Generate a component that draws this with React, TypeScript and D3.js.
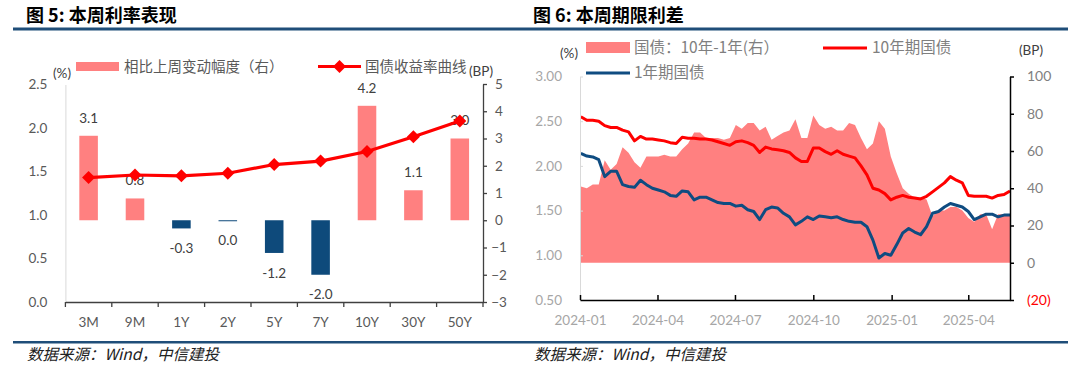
import * as d3 from "d3";
import { useEffect, useRef } from "react";

const W = 1080;
const H = 366;

// 图5：本周利率表现
const TENORS = ["3M", "9M", "1Y", "2Y", "5Y", "7Y", "10Y", "30Y", "50Y"];
const WEEK_CHANGE_BP = [3.1, 0.8, -0.3, 0.0, -1.2, -2.0, 4.2, 1.1, 3.0];
const CURVE_YIELD = [1.43, 1.46, 1.45, 1.48, 1.58, 1.62, 1.73, 1.9, 2.08];
const PCT_TICKS = [0, 0.5, 1, 1.5, 2, 2.5];
const BP_TICKS = [-3, -2, -1, 0, 1, 2, 3, 4, 5];

// 图6：本周期限利差 (weekly readings)
const DATES = [
  "2024-01-02", "2024-01-09", "2024-01-16", "2024-01-23", "2024-01-30", "2024-02-06", "2024-02-13", "2024-02-20",
  "2024-02-27", "2024-03-05", "2024-03-12", "2024-03-19", "2024-03-26", "2024-04-02", "2024-04-09", "2024-04-16",
  "2024-04-23", "2024-04-30", "2024-05-07", "2024-05-14", "2024-05-21", "2024-05-28", "2024-06-04", "2024-06-11",
  "2024-06-18", "2024-06-25", "2024-07-02", "2024-07-09", "2024-07-16", "2024-07-23", "2024-07-30", "2024-08-06",
  "2024-08-13", "2024-08-20", "2024-08-27", "2024-09-03", "2024-09-10", "2024-09-17", "2024-09-24", "2024-10-01",
  "2024-10-08", "2024-10-15", "2024-10-22", "2024-10-29", "2024-11-05", "2024-11-12", "2024-11-19", "2024-11-26",
  "2024-12-03", "2024-12-10", "2024-12-17", "2024-12-24", "2024-12-31", "2025-01-07", "2025-01-14", "2025-01-21",
  "2025-01-28", "2025-02-04", "2025-02-11", "2025-02-18", "2025-02-25", "2025-03-04", "2025-03-11", "2025-03-18",
  "2025-03-25", "2025-04-01", "2025-04-08", "2025-04-15", "2025-04-22", "2025-04-29", "2025-05-06", "2025-05-13",
  "2025-05-20",
];
const CGB_10Y = [
  2.55, 2.51, 2.51, 2.5, 2.45, 2.43, 2.43, 2.4, 2.38, 2.28,
  2.33, 2.3, 2.3, 2.29, 2.28, 2.26, 2.25, 2.32, 2.31, 2.31,
  2.3, 2.3, 2.29, 2.27, 2.25, 2.23, 2.27, 2.28, 2.26, 2.23,
  2.15, 2.21, 2.19, 2.18, 2.17, 2.15, 2.09, 2.05, 2.05, 2.2,
  2.2, 2.16, 2.13, 2.17, 2.13, 2.11, 2.09, 2.0, 1.9, 1.75,
  1.73, 1.69, 1.62, 1.65, 1.67, 1.65, 1.64, 1.63, 1.66, 1.71,
  1.76, 1.81, 1.88, 1.84, 1.81, 1.67, 1.66, 1.66, 1.66, 1.64,
  1.67, 1.68, 1.72,
];
const CGB_1Y = [
  2.14, 2.11, 2.1, 2.07, 1.88, 1.94, 1.94, 1.79, 1.77, 1.76,
  1.84, 1.79, 1.75, 1.73, 1.71, 1.67, 1.66, 1.72, 1.71, 1.62,
  1.65, 1.65, 1.62, 1.59, 1.58, 1.58, 1.55, 1.56, 1.51, 1.49,
  1.4, 1.51, 1.54, 1.53, 1.47, 1.43, 1.34, 1.38, 1.43, 1.4,
  1.44, 1.43, 1.42, 1.43, 1.4, 1.38, 1.37, 1.37, 1.32, 1.17,
  0.97, 1.02, 1.0, 1.12, 1.25, 1.3, 1.26, 1.23, 1.32, 1.47,
  1.49, 1.54, 1.58, 1.56, 1.54, 1.49, 1.4, 1.43, 1.46, 1.46,
  1.43, 1.45, 1.45,
];
const SPREAD_BP = [
  41, 40, 42, 42, 55, 50, 53, 62, 59, 54,
  51, 57, 57, 57, 58, 57, 57, 61, 64, 70,
  70, 67, 67, 67, 66, 67, 74, 72, 75, 75,
  71, 73, 66, 68, 70, 71, 77, 67, 67, 79,
  74, 72, 73, 71, 71, 75, 74, 67, 61, 64,
  76, 72, 57, 48, 40, 37, 35, 35, 34, 25,
  28, 28, 30, 30, 28, 24, 22, 26, 26, 18,
  26, 26, 26,
];
const RATE_TICKS = [0.5, 1, 1.5, 2, 2.5, 3];
const SPREAD_TICKS = [-20, 0, 20, 40, 60, 80, 100];
const DATE_TICKS = ["2024-01-01", "2024-04-01", "2024-07-01", "2024-10-01", "2025-01-01", "2025-04-01"];

const NUM_FONT = "Lato, 'Noto Sans CJK SC', sans-serif";
const CJK_FONT = "'Noto Sans CJK SC', sans-serif";
const PINK = "#ff8080";
const NAVY = "#0e4a7b";
const RULE = "#1f4e79";

const App = () => {
  const svgRef = useRef<SVGSVGElement>(null);

  useEffect(() => {
    const svg = d3.select(svgRef.current);
    svg.selectAll("*").remove();
    svg.style("background", "#fff");

    // header / footer rules and texts
    svg.append("rect").attr("x", 13).attr("y", 27.5).attr("width", 1055).attr("height", 3).attr("fill", RULE);
    svg.append("rect").attr("x", 13).attr("y", 341).attr("width", 1055).attr("height", 2.5).attr("fill", RULE);
    [
      { x: 26, t: "图 5: 本周利率表现" },
      { x: 533, t: "图 6: 本周期限利差" },
    ].forEach((d) =>
      svg.append("text").attr("x", d.x).attr("y", 22).attr("font-family", CJK_FONT)
        .attr("font-weight", 700).attr("font-size", 18).attr("fill", "#000").text(d.t)
    );
    [27, 534].forEach((x) =>
      svg.append("text").attr("x", x).attr("y", 360).attr("font-family", CJK_FONT)
        .attr("font-style", "italic").attr("font-size", 15.5).attr("fill", "#222")
        .text("数据来源：Wind，中信建投")
    );

    // ---------- 图5 ----------
    const g5 = svg.append("g");
    const x5 = d3.scaleBand().domain(TENORS).range([65.4, 483]);
    const yPct = d3.scaleLinear().domain([0, 2.5]).range([302, 84.5]);
    const yBp = d3.scaleLinear().domain([-3, 5]).range([302, 84]);

    const leftAx = g5.append("g").attr("transform", "translate(65.4,0)")
      .call(d3.axisLeft(yPct).tickValues(PCT_TICKS).tickFormat(d3.format(".1f")).tickSize(0).tickPadding(18));
    leftAx.select(".domain").attr("stroke", "#d9d9d9");
    leftAx.selectAll("text").attr("fill", "#595959").attr("font-size", 13.5).attr("font-family", NUM_FONT);

    const rightAx = g5.append("g").attr("transform", "translate(483,0)")
      .call(d3.axisRight(yBp).tickValues(BP_TICKS).tickSizeInner(4).tickSizeOuter(0));
    rightAx.select(".domain").attr("stroke", "#404040").attr("stroke-width", 1.3);
    rightAx.selectAll("line").attr("stroke", "#404040").attr("stroke-width", 1.3);
    rightAx.selectAll("text").attr("fill", "#595959").attr("font-size", 13.5).attr("font-family", NUM_FONT)
      .attr("text-anchor", "middle").attr("x", 16);

    const bottomAx = g5.append("g").attr("transform", "translate(0,302)")
      .call(d3.axisBottom(x5).tickSize(0));
    bottomAx.select(".domain").attr("stroke", "#404040").attr("stroke-width", 1.5);
    bottomAx.selectAll("text").attr("fill", "#595959").attr("font-size", 13.5).attr("font-family", NUM_FONT)
      .attr("y", 20).attr("dy", "0.35em");
    const bounds = TENORS.map((t) => x5(t) as number).concat([x5.range()[1]]);
    g5.selectAll(".cat-tick").data(bounds).enter().append("line")
      .attr("x1", (d) => d).attr("x2", (d) => d).attr("y1", 302).attr("y2", 307)
      .attr("stroke", "#404040").attr("stroke-width", 1.3);

    const barW = x5.bandwidth() * 0.4;
    g5.selectAll(".bar").data(WEEK_CHANGE_BP).enter().append("rect")
      .attr("x", (_, i) => (x5(TENORS[i]) as number) + (x5.bandwidth() - barW) / 2)
      .attr("width", barW)
      .attr("y", (d) => Math.min(yBp(d), yBp(0)))
      .attr("height", (d) => Math.max(1, Math.abs(yBp(d) - yBp(0))))
      .attr("fill", (d) => (d > 0 ? PINK : NAVY));

    g5.selectAll(".bar-label").data(WEEK_CHANGE_BP).enter().append("text")
      .attr("x", (_, i) => (x5(TENORS[i]) as number) + x5.bandwidth() / 2)
      .attr("y", (d) => (d > 0 ? yBp(d) - 18 : yBp(d) + 20))
      .attr("dy", "0.35em").attr("text-anchor", "middle")
      .attr("fill", "#404040").attr("font-size", 13.5).attr("font-family", NUM_FONT)
      .text((d) => d.toFixed(1));

    const curve = d3.line<number>()
      .x((_, i) => (x5(TENORS[i]) as number) + x5.bandwidth() / 2)
      .y((d) => yPct(d));
    g5.append("path").datum(CURVE_YIELD).attr("d", curve).attr("fill", "none")
      .attr("stroke", "#ff0000").attr("stroke-width", 3.2);
    const diamond = d3.symbol().type(d3.symbolSquare).size(85);
    g5.selectAll(".mk").data(CURVE_YIELD).enter().append("path")
      .attr("d", diamond)
      .attr("transform", (d, i) => `translate(${(x5(TENORS[i]) as number) + x5.bandwidth() / 2},${yPct(d)}) rotate(45)`)
      .attr("fill", "#ff0000");

    // legend + units
    g5.append("rect").attr("x", 76).attr("y", 62).attr("width", 43).attr("height", 9).attr("fill", PINK);
    g5.append("text").attr("x", 124).attr("y", 66.5).attr("dy", "0.35em").attr("font-family", CJK_FONT)
      .attr("font-size", 14.5).attr("fill", "#595959").text("相比上周变动幅度（右）");
    g5.append("line").attr("x1", 318).attr("x2", 361).attr("y1", 66.5).attr("y2", 66.5)
      .attr("stroke", "#ff0000").attr("stroke-width", 3.2);
    g5.append("path").attr("d", diamond).attr("transform", "translate(339.5,66.5) rotate(45)").attr("fill", "#ff0000");
    g5.append("text").attr("x", 365).attr("y", 66.5).attr("dy", "0.35em").attr("font-family", CJK_FONT)
      .attr("font-size", 14.5).attr("fill", "#595959").text("国债收益率曲线");
    g5.append("text").attr("x", 62).attr("y", 73).attr("dy", "0.35em").attr("text-anchor", "middle")
      .attr("font-family", NUM_FONT).attr("font-size", 13.5).attr("fill", "#404040").text("(%)");
    g5.append("text").attr("x", 481).attr("y", 71).attr("dy", "0.35em").attr("text-anchor", "middle")
      .attr("font-family", NUM_FONT).attr("font-size", 13.5).attr("fill", "#404040").text("(BP)");

    // ---------- 图6 ----------
    const g6 = svg.append("g");
    const parse = d3.timeParse("%Y-%m-%d");
    const dates = DATES.map((d) => parse(d) as Date);
    const x6 = d3.scaleTime().domain([new Date(2024, 0, 1), new Date(2025, 4, 20)]).range([580, 1010]);
    const yRate = d3.scaleLinear().domain([0.5, 3]).range([300, 76.5]);
    const ySpr = d3.scaleLinear().domain([-20, 100]).range([300, 76.5]);

    const area = d3.area<number>()
      .x((_, i) => x6(dates[i]))
      .y0(ySpr(0))
      .y1((d) => ySpr(d));
    g6.append("path").datum(SPREAD_BP).attr("d", area).attr("fill", PINK);

    const rateLine = d3.line<number>().x((_, i) => x6(dates[i])).y((d) => yRate(d));
    g6.append("path").datum(CGB_1Y).attr("d", rateLine).attr("fill", "none")
      .attr("stroke", "#0f4c81").attr("stroke-width", 3).attr("stroke-linejoin", "round");
    g6.append("path").datum(CGB_10Y).attr("d", rateLine).attr("fill", "none")
      .attr("stroke", "#ff0000").attr("stroke-width", 3).attr("stroke-linejoin", "round");

    const rLeft = g6.append("g").attr("transform", "translate(580,0)")
      .call(d3.axisLeft(yRate).tickValues(RATE_TICKS).tickFormat(d3.format(".2f")).tickSizeInner(-3).tickSizeOuter(0).tickPadding(18));
    rLeft.select(".domain").attr("stroke", "#d9d9d9");
    rLeft.selectAll("line").attr("stroke", "#d9d9d9");
    rLeft.selectAll("text").attr("fill", "#a6a6a6").attr("font-size", 13.5).attr("font-family", NUM_FONT)
      .attr("x", -18);

    const rRight = g6.append("g").attr("transform", "translate(1010,0)")
      .call(d3.axisRight(ySpr).tickValues(SPREAD_TICKS)
        .tickFormat((d) => ((d as number) < 0 ? `(${-(d as number)})` : `${d}`))
        .tickSizeInner(4).tickSizeOuter(0).tickPadding(13));
    rRight.select(".domain").attr("stroke", "#000").attr("stroke-width", 1.5);
    rRight.selectAll("line").attr("stroke", "#000").attr("stroke-width", 1.5);
    rRight.selectAll("text").attr("font-size", 14).attr("font-family", NUM_FONT)
      .attr("fill", (d) => ((d as number) < 0 ? "#ff0000" : "#7f7f7f"));

    const rBottom = g6.append("g").attr("transform", "translate(0,300)")
      .call(d3.axisBottom(x6).tickValues(DATE_TICKS.map((d) => parse(d) as Date))
        .tickFormat((d) => d3.timeFormat("%Y-%m")(d as Date)).tickSizeInner(-5).tickSizeOuter(0));
    rBottom.select(".domain").attr("stroke", "#000").attr("stroke-width", 1.5);
    rBottom.selectAll("line").attr("stroke", "#000").attr("stroke-width", 1.5);
    rBottom.selectAll("text").attr("fill", "#a6a6a6").attr("font-size", 13.5).attr("font-family", NUM_FONT)
      .attr("y", 20).attr("dy", "0.35em");

    // legend + units
    g6.append("rect").attr("x", 586).attr("y", 42).attr("width", 44).attr("height", 11).attr("fill", PINK);
    g6.append("text").attr("x", 634).attr("y", 48).attr("dy", "0.35em").attr("font-family", CJK_FONT)
      .attr("font-size", 15.5).attr("fill", "#7f7f7f").text("国债：10年-1年(右）");
    g6.append("line").attr("x1", 823).attr("x2", 867).attr("y1", 48).attr("y2", 48)
      .attr("stroke", "#ff0000").attr("stroke-width", 3);
    g6.append("text").attr("x", 872).attr("y", 48).attr("dy", "0.35em").attr("font-family", CJK_FONT)
      .attr("font-size", 15.5).attr("fill", "#7f7f7f").text("10年期国债");
    g6.append("line").attr("x1", 586).attr("x2", 630).attr("y1", 73).attr("y2", 73)
      .attr("stroke", "#0f4c81").attr("stroke-width", 3);
    g6.append("text").attr("x", 634).attr("y", 73).attr("dy", "0.35em").attr("font-family", CJK_FONT)
      .attr("font-size", 15.5).attr("fill", "#7f7f7f").text("1年期国债");
    g6.append("text").attr("x", 569).attr("y", 53).attr("dy", "0.35em").attr("text-anchor", "middle")
      .attr("font-family", NUM_FONT).attr("font-size", 13.5).attr("fill", "#404040").text("(%)");
    g6.append("text").attr("x", 1031).attr("y", 50).attr("dy", "0.35em").attr("text-anchor", "middle")
      .attr("font-family", NUM_FONT).attr("font-size", 13.5).attr("fill", "#404040").text("(BP)");
  }, []);

  return (
    <svg ref={svgRef} width={W} height={H} style={{ position: "absolute", left: 0, top: 0 }} />
  );
};

export default App;
